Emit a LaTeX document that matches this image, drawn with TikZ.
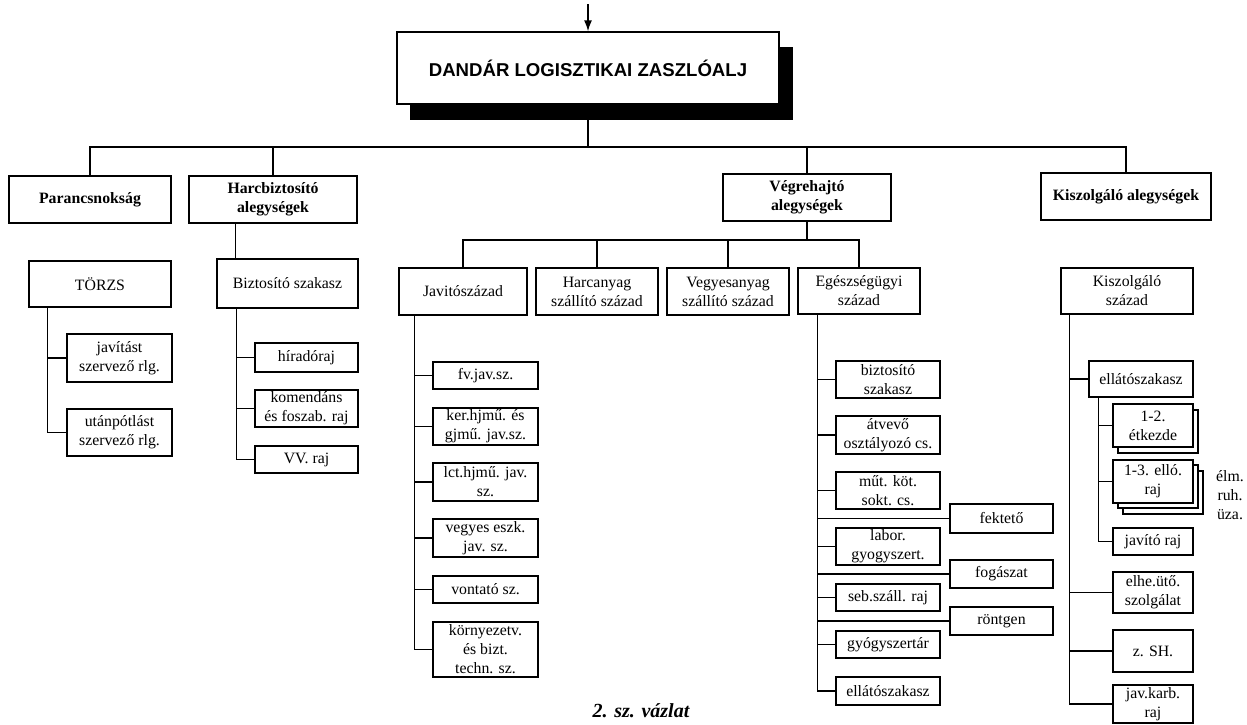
\documentclass[tikz,border=0pt]{standalone}
\usepackage{fontspec}
\setmainfont{Liberation Serif}
\newfontfamily\titlefont{Liberation Sans}
\usetikzlibrary{arrows.meta}
\newcommand\txtf{\fontsize{15.8}{19}\selectfont}
\newcommand\txtb{\fontsize{15.8}{19}\selectfont\bfseries}
\newcommand\mkbox[7][]{%
  \pgfmathsetmacro\bw{#5-#3}\pgfmathsetmacro\bh{#6-#4}%
  \pgfmathsetmacro\bcx{(#3+#5)/2}\pgfmathsetmacro\bcy{(#4+#6)/2}%
  \node[box,minimum width=\bw pt,minimum height=\bh pt,#1] (#2) at (\bcx,\bcy) {#7};}
\tikzset{
  box/.style={draw, line width=1.4pt, fill=white, inner sep=0pt, align=center, font=\txtf},
  hbox/.style={box, font=\txtb},
  ln/.style={line width=1.4pt},
}
\begin{document}
\begin{tikzpicture}[x=1pt,y=-1pt]
\useasboundingbox (0,0) rectangle (1247,724);
% main box with shadow
\fill (410,47) rectangle (793,120);
\mkbox[font=\titlefont\bfseries\fontsize{18.6}{22}\selectfont]{main}{397}{32}{779}{104}{DANDÁR LOGISZTIKAI ZASZLÓALJ}
\coordinate (topin) at (588,4);
\draw[ln,-{Latex[length=11pt,width=8pt]}] (topin) -- (main.north);
% level 2
\mkbox[hbox]{par}{9}{176}{171}{223}{Parancsnokság}
\mkbox[hbox]{harc}{189}{176}{357}{223}{Harcbiztosító\\alegységek}
\mkbox[hbox]{vegr}{723}{174}{891}{221}{Végrehajtó\\alegységek}
\mkbox[hbox]{kisza}{1041}{173}{1211}{220}{Kiszolgáló alegységek}
\coordinate (b1) at (588,147);
\draw[ln] (main.south) -- (b1);
\draw[ln] (par.north) -- (par.north |- b1) -- (kisza.north |- b1) -- (kisza.north);
\draw[ln] (harc.north) -- (harc.north |- b1);
\draw[ln] (vegr.north) -- (vegr.north |- b1);
% Parancsnokság column
\mkbox{torzs}{29}{261}{171}{307}{TÖRZS}
\mkbox{javr}{67}{334}{172}{382}{javítást\\szervező rlg.}
\mkbox{utan}{67}{409}{172}{456}{utánpótlást\\szervező rlg.}
\draw[ln] ([xshift=19pt]torzs.south west) |- (javr.west);
\draw[ln] ([xshift=19pt]torzs.south west) |- (utan.west);
% Harcbiztosító column
\mkbox{biz}{217}{259}{358}{308}{Biztosító szakasz}
\mkbox{hirad}{255}{343}{358}{372}{híradóraj}
\mkbox{komen}{255}{390}{358}{427}{komendáns\\és foszab. raj}
\mkbox{vv}{255}{446}{358}{473}{VV. raj}
\draw[ln] ([xshift=47pt]harc.south west) -- ([xshift=47pt]harc.south west |- biz.north);
\draw[ln] ([xshift=20pt]biz.south west) |- (hirad.west);
\draw[ln] ([xshift=20pt]biz.south west) |- (komen.west);
\draw[ln] ([xshift=20pt]biz.south west) |- (vv.west);
% Végrehajtó level 3
\mkbox{javsz}{399}{268}{527}{315}{Javitószázad}
\mkbox{harcany}{536}{268}{658}{315}{Harcanyag\\szállító század}
\mkbox{vegyany}{667}{268}{789}{315}{Vegyesanyag\\szállító század}
\mkbox{egesz}{798}{268}{920}{314}{Egészségügyi\\század}
\coordinate (b2) at (661,240);
\draw[ln] (vegr.south) -- (vegr.south |- b2);
\draw[ln] (javsz.north) -- (javsz.north |- b2) -- (egesz.north |- b2) -- (egesz.north);
\draw[ln] (harcany.north) -- (harcany.north |- b2);
\draw[ln] (vegyany.north) -- (vegyany.north |- b2);
% Javítószázad children
\mkbox{fv}{433}{362}{538}{389}{fv.jav.sz.}
\mkbox{ker}{433}{408}{538}{445}{ker.hjmű. és\\gjmű. jav.sz.}
\mkbox{lct}{433}{463}{538}{501}{lct.hjmű. jav.\\sz.}
\mkbox{vegyes}{433}{519}{538}{557}{vegyes eszk.\\jav. sz.}
\mkbox{vont}{433}{576}{538}{603}{vontató sz.}
\mkbox{korny}{433}{622}{538}{677}{környezetv.\\és bizt.\\techn. sz.}
\foreach \n in {fv,ker,lct,vegyes,vont,korny}
  \draw[ln] ([xshift=16pt]javsz.south west) |- (\n.west);
% Egészségügyi children
\mkbox{ebiz}{836}{361}{940}{398}{biztosító\\szakasz}
\mkbox{atv}{836}{416}{940}{454}{átvevő\\osztályozó cs.}
\mkbox{mut}{836}{472}{940}{509}{műt. köt.\\sokt. cs.}
\mkbox{lab}{836}{528}{940}{565}{labor.\\gyogyszert.}
\mkbox{seb}{836}{584}{940}{611}{seb.száll. raj}
\mkbox{gyogy}{836}{631}{940}{658}{gyógyszertár}
\mkbox{eell}{836}{677}{940}{705}{ellátószakasz}
\mkbox{fekt}{950}{504}{1053}{533}{fektető}
\mkbox{foga}{950}{560}{1053}{588}{fogászat}
\mkbox{ront}{950}{607}{1053}{635}{röntgen}
\foreach \n in {ebiz,atv,mut,fekt,lab,foga,seb,ront,gyogy,eell}
  \draw[ln] ([xshift=20pt]egesz.south west) |- (\n.west);
% Kiszolgáló column
\mkbox{ksz}{1061}{268}{1193}{314}{Kiszolgáló\\század}
\mkbox{kell}{1089}{361}{1193}{397}{ellátószakasz}
\draw[box] (1123,471) rectangle (1203,514);
\draw[box] (1118,465) rectangle (1198,508);
\draw[box] (1118,410) rectangle (1198,453);
\mkbox{etk}{1113}{404}{1193}{447}{1-2.\\étkezde}
\mkbox{ello}{1113}{460}{1193}{503}{1-3. elló.\\raj}
\mkbox{javraj}{1113}{528}{1193}{555}{javító raj}
\mkbox{elhe}{1113}{572}{1193}{613}{elhe.ütő.\\szolgálat}
\mkbox{zsh}{1113}{630}{1193}{672}{z. SH.}
\mkbox{javk}{1113}{685}{1193}{723}{jav.karb.\\raj}
\node[font=\txtf, align=center, inner sep=0pt] (elm) at (1230,495) {élm.\\ruh.\\üza.};
\foreach \n in {kell,elhe,zsh,javk}
  \draw[ln] ([xshift=9pt]ksz.south west) |- (\n.west);
\foreach \n in {etk,ello,javraj}
  \draw[ln] ([xshift=10pt]kell.south west) |- (\n.west);
% caption
\node[font=\bfseries\itshape\fontsize{20}{24}\selectfont, inner sep=0pt] (cap) at (641,711) {2. sz. vázlat};
\end{tikzpicture}
\end{document}
